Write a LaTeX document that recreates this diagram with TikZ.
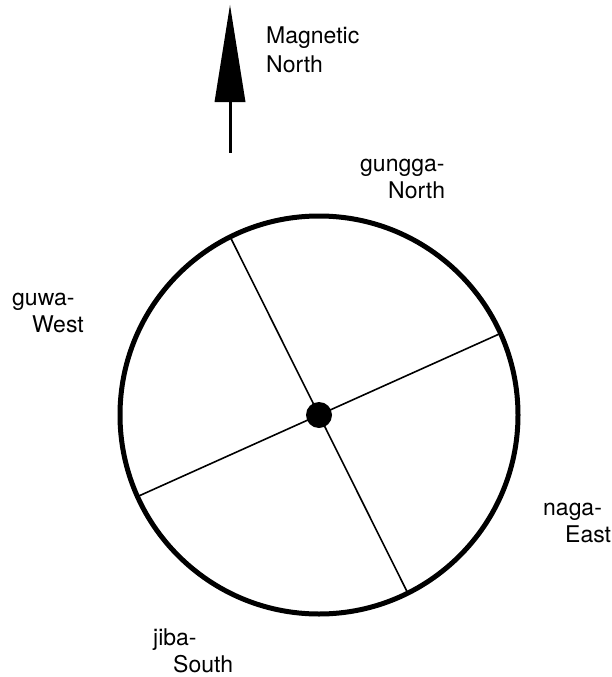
\documentclass[tikz,border=0pt]{standalone}
\usepackage{fontspec}
\setmainfont{TeX Gyre Heros}
\begin{document}
\begin{tikzpicture}[x=1pt,y=-1pt,
  lbl/.style={anchor=base west, inner sep=0pt, font=\fontsize{23}{28}\selectfont},
  rim/.style={line width=5pt},
  spoke/.style={line width=1.6pt}]
\useasboundingbox (0,0) rectangle (611,677);
% arrow
\coordinate (tip) at (230,5);
\coordinate (hl) at (214.5,102);
\coordinate (hr) at (245.5,102);
\coordinate (hb) at (230,101);
\coordinate (sb) at (230,153);
\fill (tip) -- (hl) -- (hr) -- cycle;
\draw[line width=3pt] (hb) -- (sb);
% compass
\coordinate (c) at (319,415);
\draw[rim] (c) circle[radius=199pt];
\coordinate (a1) at ([shift={(116.5:199pt)}]c);
\coordinate (a2) at ([shift={(296.5:199pt)}]c);
\coordinate (b1) at ([shift={(24.2:199pt)}]c);
\coordinate (b2) at ([shift={(204.2:199pt)}]c);
\draw[spoke] (a1) -- (a2);
\draw[spoke] (b1) -- (b2);
\fill (c) circle[radius=13pt];
% labels
\node[lbl] (m1) at (266,44) {Magnetic};
\node[lbl] (m2) at (266,72) {North};
\node[lbl] (g1) at (360,171) {gungga-};
\node[lbl] (g2) at (388,198) {North};
\node[lbl] (w1) at (12,305) {guwa-};
\node[lbl] (w2) at (32,332) {West};
\node[lbl] (e1) at (543,515) {naga-};
\node[lbl] (e2) at (565,542) {East};
\node[lbl] (s1) at (153,645) {jiba-};
\node[lbl] (s2) at (173,672) {South};
\end{tikzpicture}
\end{document}
